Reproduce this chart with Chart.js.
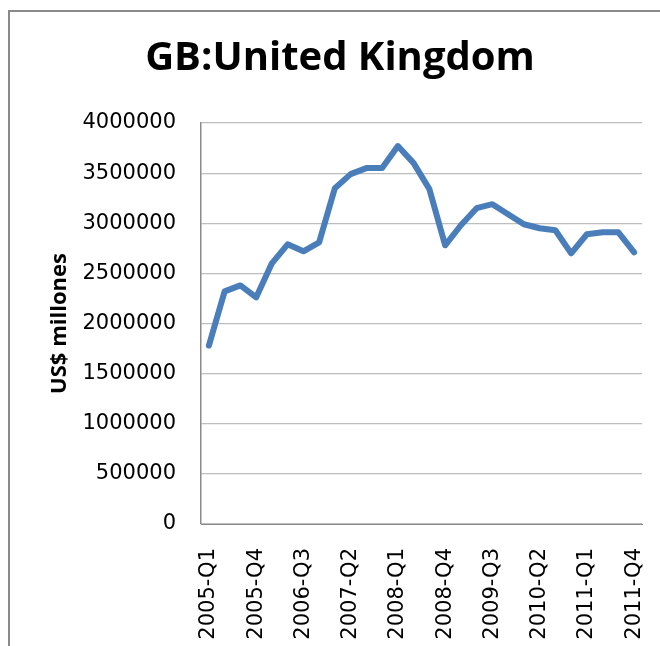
<!DOCTYPE html>
<html>
<head>
<meta charset="utf-8">
<script src="https://cdn.jsdelivr.net/npm/chart.js@4/dist/chart.umd.min.js"></script>
<style>
  html, body { margin: 0; padding: 0; background: #fff; }
  #wrap { position: relative; width: 660px; height: 646px; overflow: hidden; }
  #frame { position: absolute; left: 8px; top: 10px; width: 700px; height: 700px;
           border-left: 2px solid #8a8a8a; border-top: 2px solid #8a8a8a; }
  canvas { position: absolute; left: 0; top: 0; }
</style>
</head>
<body>
<div id="wrap">
  <div id="frame"></div>
  <canvas id="ukChart" width="660" height="646"></canvas>
</div>
<script>
const quarters = [
  '2005-Q1', '2005-Q2', '2005-Q3', '2005-Q4',
  '2006-Q1', '2006-Q2', '2006-Q3', '2006-Q4',
  '2007-Q1', '2007-Q2', '2007-Q3', '2007-Q4',
  '2008-Q1', '2008-Q2', '2008-Q3', '2008-Q4',
  '2009-Q1', '2009-Q2', '2009-Q3', '2009-Q4',
  '2010-Q1', '2010-Q2', '2010-Q3', '2010-Q4',
  '2011-Q1', '2011-Q2', '2011-Q3', '2011-Q4'
];
const usdMillions = [
  1780000, 2320000, 2380000, 2260000,
  2600000, 2790000, 2720000, 2810000,
  3350000, 3490000, 3550000, 3550000,
  3770000, 3600000, 3340000, 2780000,
  2980000, 3150000, 3190000, 3090000,
  2990000, 2950000, 2930000, 2700000,
  2890000, 2910000, 2910000, 2710000
];
const yTickLabels = ['0', '500000', '1000000', '1500000', '2000000',
                     '2500000', '3000000', '3500000', '4000000'];

const ctx = document.getElementById('ukChart').getContext('2d');
const ukChart = new Chart(ctx, {
  type: 'line',
  data: {
    labels: quarters,
    datasets: [{
      label: 'GB',
      data: usdMillions,
      borderColor: '#4a7ebb',
      borderWidth: 6,
      borderJoinStyle: 'round',
      borderCapStyle: 'round',
      pointRadius: 0,
      tension: 0,
      fill: false
    }]
  },
  options: {
    responsive: false,
    animation: false,
    devicePixelRatio: 1,
    layout: { padding: { left: 38, right: 18, top: 0, bottom: 0 } },
    plugins: {
      legend: { display: false },
      tooltip: { enabled: false },
      title: {
        display: true,
        text: 'GB:United Kingdom',
        color: '#000',
        font: { family: 'Open Sans', size: 40, weight: 'bold', lineHeight: 1.2 },
        padding: { top: 35, bottom: 40 }
      }
    },
    scales: {
      x: {
        offset: true,
        grid: { display: false },
        border: { display: true, color: '#8a8a8a', width: 1 },
        ticks: {
          autoSkip: false,
          minRotation: 90,
          maxRotation: 90,
          padding: 16,
          color: '#000',
          font: { family: 'DejaVu Sans', size: 21 },
          callback: (v, i) => (i % 3 === 0 ? quarters[i] : '')
        },
        afterFit: (s) => { s.height = 122; s.paddingLeft = 0; s.paddingRight = 0; }
      },
      y: {
        min: 0,
        max: 4000000,
        grid: { color: '#bdbdbd', lineWidth: 1.2, drawTicks: false },
        border: { display: true, color: '#8a8a8a', width: 1.5 },
        ticks: {
          stepSize: 500000,
          padding: 25,
          color: '#000',
          font: { family: 'DejaVu Sans', size: 21 },
          callback: (v, i) => yTickLabels[i]
        },
        title: {
          display: true,
          text: 'US$ millones',
          color: '#000',
          font: { family: 'Open Sans', size: 22, weight: 'bold' },
          padding: { top: 9, bottom: 0 }
        },
        afterFit: (s) => { s.width = 163; s.paddingTop = 0; s.paddingBottom = 0; }
      }
    }
  }
});
</script>
</body>
</html>
